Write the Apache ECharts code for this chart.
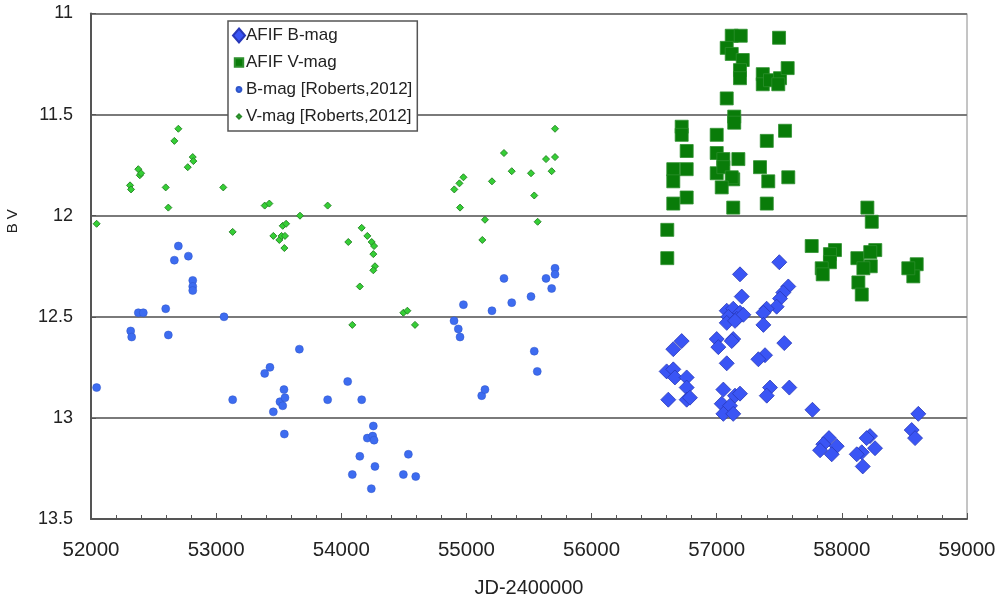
<!DOCTYPE html>
<html>
<head>
<meta charset="utf-8">
<script src="https://cdn.jsdelivr.net/npm/echarts@6/dist/echarts.min.js"></script>
<style>html,body{margin:0;padding:0;background:#fff}#c{width:1000px;height:600px}</style>
</head>
<body>
<div id="c"></div>
<script>
// ---- data ----
var robertsB_x = [52045,52317,52325,52378,52418,52597,52618,52666,52698,52778,52813,52813,52813,53063,53132,53388,53430,53457,53510,53542,53550,53532,53545,53665,53891,54051,54163,54256,54208,54251,54262,54148,54269,54088,54240,54536,54496,54595,54901,54935,54949,54976,55122,55148,55204,55300,55362,55516,55542,55566,55636,55681,55708,55708];
var robertsB_y = [12.85,12.57,12.60,12.48,12.48,12.46,12.59,12.22,12.15,12.20,12.32,12.35,12.37,12.50,12.91,12.78,12.75,12.97,12.92,12.86,12.90,12.94,13.08,12.66,12.91,12.82,12.91,13.04,13.10,13.09,13.11,13.19,13.24,13.28,13.35,13.18,13.28,13.29,12.52,12.56,12.60,12.44,12.89,12.86,12.47,12.31,12.43,12.40,12.67,12.77,12.31,12.36,12.26,12.29];

var robertsV_x = [52045,52312,52320,52378,52390,52400,52597,52618,52666,52698,52773,52813,52818,53057,53132,53388,53425,53457,53505,53523,53550,53532,53559,53545,53670,53891,54056,54148,54163,54208,54243,54262,54256,54269,54256,54088,54496,54528,54589,54903,54944,54976,54949,55127,55148,55204,55300,55362,55516,55542,55569,55636,55681,55708,55708];
var robertsV_y = [12.04,11.85,11.87,11.77,11.80,11.79,11.86,11.96,11.63,11.57,11.76,11.71,11.73,11.86,12.08,11.95,11.94,12.10,12.12,12.10,12.10,12.05,12.04,12.16,12.00,11.95,12.13,12.35,12.06,12.10,12.13,12.15,12.19,12.25,12.27,12.54,12.48,12.47,12.54,11.87,11.84,11.81,11.96,12.12,12.02,11.83,11.69,11.78,11.79,11.90,12.03,11.72,11.78,11.71,11.57];

var afifV_x = [57120,57192,57498,57080,57120,57208,57186,57186,57368,57368,57426,57506,57492,57567,57080,57140,57140,56720,56720,57000,57400,57546,56760,57000,57053,57173,56653,56760,57000,57053,57346,57132,57120,56653,57412,57572,57040,56760,56653,57132,57400,56605,56605,58204,58239,57759,57945,57905,57905,57839,57847,58124,58267,58227,58231,58172,58132,58159,58598,58571,58531];
var afifV_y = [11.11,11.11,11.12,11.17,11.20,11.23,11.28,11.32,11.30,11.35,11.33,11.32,11.35,11.27,11.42,11.51,11.54,11.56,11.60,11.60,11.63,11.58,11.68,11.69,11.72,11.72,11.77,11.77,11.79,11.76,11.76,11.82,11.81,11.83,11.83,11.81,11.86,11.91,11.94,11.96,11.94,12.07,12.21,11.96,12.03,12.15,12.17,12.19,12.23,12.26,12.29,12.21,12.17,12.18,12.25,12.26,12.33,12.39,12.24,12.30,12.26];

var afifB_x = [57500,57186,57572,57532,57506,57200,57479,57399,57373,57080,57132,57186,57093,57160,57213,57080,57146,57373,56720,56653,57000,57013,57132,57120,57540,57386,57333,57080,56600,56653,56666,56760,56760,57053,57146,57186,57426,57400,57580,56613,56760,56786,57040,57106,57053,57132,57765,57897,57852,57959,57919,57826,58225,58198,58265,58159,58119,58167,58611,58558,58585];
var afifB_y = [12.23,12.29,12.35,12.38,12.41,12.40,12.45,12.46,12.48,12.47,12.46,12.48,12.50,12.51,12.49,12.53,12.52,12.54,12.62,12.66,12.61,12.65,12.61,12.62,12.63,12.69,12.71,12.73,12.77,12.76,12.80,12.80,12.85,12.86,12.89,12.88,12.85,12.89,12.85,12.91,12.91,12.90,12.93,12.94,12.98,12.98,12.96,13.10,13.13,13.14,13.18,13.16,13.09,13.10,13.15,13.17,13.18,13.24,12.98,13.06,13.10];

var seriesNames = ['AFIF B-mag','AFIF V-mag','B-mag [Roberts,2012]','V-mag [Roberts,2012]'];
var xTicks = {min:52000, max:59000, step:1000};
var yTicks = {min:11, max:13.5, step:0.5};

function zip(xs, ys){ var out=[]; for(var i=0;i<xs.length;i++) out.push([xs[i], ys[i]]); return out; }

var FONT = "'Liberation Sans', Arial, sans-serif";
var chart = echarts.init(document.getElementById('c'), null, {renderer:'canvas'});
chart.setOption({
  animation:false,
  backgroundColor:'#ffffff',
  grid:{left:91, right:33, top:13.5, bottom:81, containLabel:false, outerBoundsMode:'none',
        show:true, borderColor:'#8a8a8a', borderWidth:1, backgroundColor:'transparent'},
  legend:{
    orient:'vertical', left:228, top:21, width:195,
    backgroundColor:'#ffffff', borderColor:'#555555', borderWidth:1.5, borderRadius:0,
    padding:[6,5,6,4], itemGap:10, itemWidth:12, itemHeight:14,
    textStyle:{fontFamily:FONT, fontSize:17, color:'#222', padding:[0,0,0,-4]},
    data:[
      {name:seriesNames[0], icon:'diamond'},
      {name:seriesNames[1], icon:'path://M0,0M20,20M3,3L17,3L17,17L3,17Z'},
      {name:seriesNames[2], icon:'path://M0,0M20,20M10,6A4,4 0 1,1 9.99,6Z'},
      {name:seriesNames[3], icon:'path://M0,0M20,20M10,6.5L13.5,10L10,13.5L6.5,10Z'}
    ]
  },
  xAxis:{
    type:'value', min:xTicks.min, max:xTicks.max, interval:xTicks.step,
    name:'JD-2400000', nameLocation:'middle', nameGap:59,
    nameTextStyle:{fontFamily:FONT, fontSize:20, color:'#222'},
    axisLine:{lineStyle:{color:'#555', width:2}},
    axisTick:{show:true, inside:true, length:6, lineStyle:{color:'#555'}},
    minorTick:{show:true, splitNumber:5, length:4, lineStyle:{color:'#555'}},
    splitLine:{show:false},
    axisLabel:{fontFamily:FONT, fontSize:20.5, color:'#222', margin:21, formatter:function(v){return String(v);}}
  },
  yAxis:{
    type:'value', inverse:true, min:yTicks.min, max:yTicks.max, interval:yTicks.step,
    name:'B V', nameLocation:'middle', nameGap:71, nameRotate:90,
    nameTextStyle:{fontFamily:FONT, fontSize:15, color:'#222', padding:[0,0,0,90]},
    axisLine:{show:true, lineStyle:{color:'#555', width:2}},
    axisTick:{show:true, inside:true, length:5, lineStyle:{color:'#555'}},
    splitLine:{show:true, lineStyle:{color:'#7a7a7a', width:2}},
    axisLabel:{fontFamily:FONT, fontSize:18, color:'#222', margin:18, formatter:function(v){return String(v);}}
  },
  series:[
    {name:seriesNames[2], type:'scatter', symbol:'circle', symbolSize:8, z:2,
     itemStyle:{color:'#3d6cf0', borderColor:'#2f55c8', borderWidth:0.5, opacity:1},
     data:zip(robertsB_x, robertsB_y)},
    {name:seriesNames[3], type:'scatter', symbol:'diamond', symbolSize:7, z:2,
     itemStyle:{color:'#35cf35', borderColor:'#2a8a2a', borderWidth:1, opacity:1},
     data:zip(robertsV_x, robertsV_y)},
    {name:seriesNames[0], type:'scatter', symbol:'diamond', symbolSize:15, z:3,
     itemStyle:{color:'#3a55f5', borderColor:'#2838b8', borderWidth:0.8, opacity:1},
     data:zip(afifB_x, afifB_y)},
    {name:seriesNames[1], type:'scatter', symbol:'rect', symbolSize:13, z:3,
     itemStyle:{color:'#097c09', borderColor:'#2d8f2d', borderWidth:0.8, opacity:1},
     data:zip(afifV_x, afifV_y)}
  ]
});
</script>
</body>
</html>
